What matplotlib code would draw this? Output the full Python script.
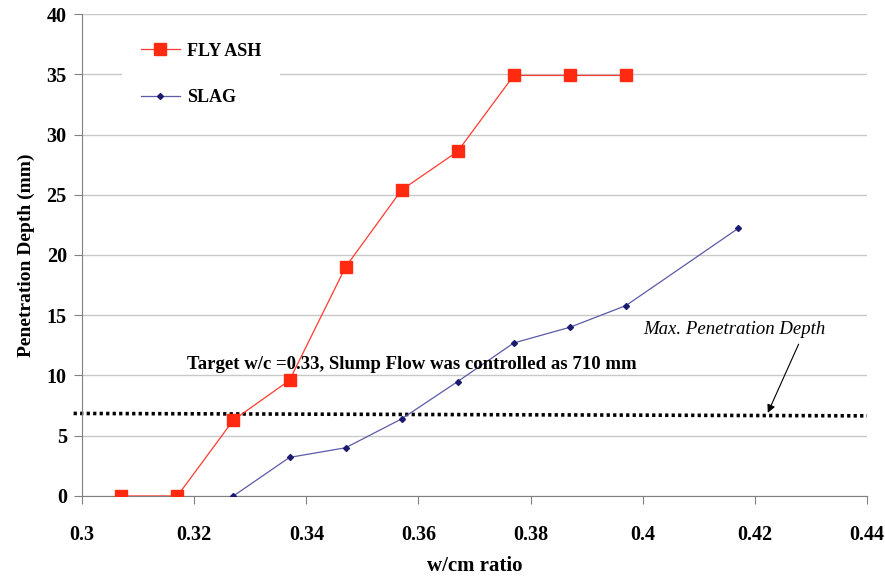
import matplotlib.pyplot as plt
import numpy as np

# data
flyash_x = [0.307, 0.317, 0.327, 0.337, 0.347, 0.357, 0.367, 0.377, 0.387, 0.397]
flyash_y = [0, 0, 6.3, 9.6, 19.0, 25.4, 28.6, 34.9, 34.9, 34.9]
slag_x = [0.327, 0.337, 0.347, 0.357, 0.367, 0.377, 0.387, 0.397, 0.417]
slag_y = [0, 3.2, 4.0, 6.4, 9.5, 12.7, 14.0, 15.8, 22.2]
limit_x = [0.2985, 0.44]
limit_y = [6.85, 6.65]

plt.rcParams['font.family'] = ['Liberation Serif', 'DejaVu Serif']

fig = plt.figure(figsize=(8.85, 5.79), dpi=100)
ax = fig.add_axes([0.0927, 0.1434, 0.887, 0.8324])

ax.plot(flyash_x, flyash_y, color='#ff3b30', lw=0.9, marker='s', ms=9,
        markerfacecolor='#ff2a10', markeredgecolor='#ff2a10', label='FLY ASH', zorder=3)
ax.plot(slag_x, slag_y, color='#5a5aa8', lw=0.9, marker='D', ms=3,
        markerfacecolor='#1a1a70', markeredgecolor='#1a1a70', label='SLAG', zorder=3)

ax.plot(limit_x, limit_y, color='black', lw=2.6, ls=(0, (0.9, 0.9)), clip_on=False, zorder=2)

ax.text(0.3187, 10.9, 'Target w/c =0.33, Slump Flow was controlled as 710 mm',
        fontsize=13.5, fontweight='bold', va='center', ha='left')
ax.text(0.4164, 13.8, 'Max. Penetration Depth', fontsize=13.5, fontstyle='italic',
        ha='center', va='center')
ax.annotate('', xy=(0.4223, 6.9), xytext=(0.4278, 12.6),
            arrowprops=dict(arrowstyle='-|>', color='black', lw=0.8,
                            shrinkA=0, shrinkB=0, mutation_scale=12))

ax.set_xlim(0.3, 0.44)
ax.set_ylim(0, 40)
ax.set_xticks(np.arange(0.3, 0.441, 0.02))
ax.set_xticklabels(['0.3', '0.32', '0.34', '0.36', '0.38', '0.4', '0.42', '0.44'])
ax.set_yticks(range(0, 41, 5))
ax.yaxis.grid(True, color='#c8c8c8', lw=1)
ax.set_axisbelow(True)

for s in ['top', 'right']:
    ax.spines[s].set_visible(False)
for s in ['left', 'bottom']:
    ax.spines[s].set_color('#808080')
ax.tick_params(axis='both', colors='#808080', labelcolor='black', length=6,
               labelsize=14.5)
ax.tick_params(axis='x', pad=15)
ax.tick_params(axis='y', pad=5)
for lab in ax.get_xticklabels() + ax.get_yticklabels():
    lab.set_fontweight('bold')

ax.set_xlabel('w/cm ratio', fontsize=15, fontweight='bold', labelpad=8)
ax.set_ylabel('Penetration Depth (mm)', fontsize=14, fontweight='bold', labelpad=8)

leg = ax.legend(loc='upper left', bbox_to_anchor=(0.04, 0.997),
                labelspacing=1.65, handlelength=2.2, handletextpad=0.4,
                frameon=True, borderpad=1.0,
                prop={'weight': 'bold', 'size': 13})
leg.get_frame().set_edgecolor('none')
leg.get_frame().set_facecolor('white')
leg.get_frame().set_alpha(1)

fig.savefig('out.png', dpi=100)
